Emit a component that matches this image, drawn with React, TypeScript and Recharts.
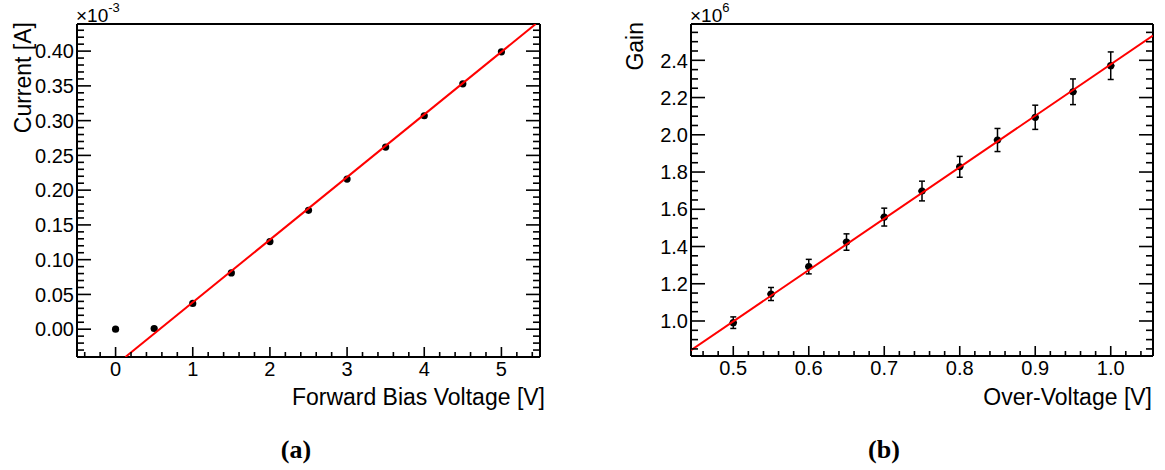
import React from "react";
import { ComposedChart, Scatter, XAxis, YAxis, ErrorBar } from "recharts";

// (a) forward bias I-V, current in units of 1e-3 A
const biasVoltage = [0, 0.5, 1, 1.5, 2, 2.5, 3, 3.5, 4, 4.5, 5];
const currentE3 = [0.0, 0.001, 0.037, 0.081, 0.126, 0.171, 0.216, 0.262, 0.307, 0.353, 0.399];
const currentFitX = [0.127, 5.444];
const currentFitY = [-0.04, 0.439];

// (b) gain vs over-voltage, gain in units of 1e6
const overVoltage = [0.5, 0.55, 0.6, 0.65, 0.7, 0.75, 0.8, 0.85, 0.9, 0.95, 1.0];
const gainE6 = [0.991, 1.145, 1.292, 1.424, 1.558, 1.698, 1.828, 1.972, 2.094, 2.231, 2.371];
const gainErr = [0.031, 0.035, 0.039, 0.044, 0.048, 0.053, 0.056, 0.062, 0.065, 0.069, 0.074];
const voltErr = [0.005, 0.005, 0.005, 0.005, 0.005, 0.005, 0.005, 0.005, 0.005, 0.005, 0.005];
const gainFitX = [0.444, 1.056];
const gainFitY = [0.843, 2.533];

const ivPoints = biasVoltage.map((x, i) => ({ x, y: currentE3[i] }));
const ivFit = currentFitX.map((x, i) => ({ x, y: currentFitY[i] }));
const gainPoints = overVoltage.map((x, i) => ({ x, y: gainE6[i], err: gainErr[i], xerr: voltErr[i] }));
const gainFit = gainFitX.map((x, i) => ({ x, y: gainFitY[i] }));

const FONT = "'Liberation Sans', Arial, Helvetica, sans-serif";

// minor tick positions (every secondary division)
const steps = (from: number, to: number, step: number) => {
  const out: number[] = [];
  const n = Math.round((to - from) / step);
  for (let i = 0; i <= n; i++) out.push(+(from + i * step).toFixed(6));
  return out;
};

const ivTicksX = steps(-0.4, 5.4, 0.2);
const ivTicksY = steps(-0.04, 0.43, 0.01);
const gainTicksX = steps(0.46, 1.04, 0.02);
const gainTicksY = steps(0.85, 2.55, 0.05);

type Side = "bottom" | "top" | "left" | "right";

// ROOT style: ticks point inwards, labels only on major ticks
function makeTick(side: Side, majorStep: number, majorLen: number, fmt?: (v: number) => string) {
  return (props: any) => {
    const { x, y, payload } = props;
    const v = payload.value as number;
    const r = v / majorStep;
    const major = Math.abs(r - Math.round(r)) < 1e-6;
    const len = major ? majorLen : majorLen / 2;
    let line;
    if (side === "bottom") line = <line x1={x} y1={y} x2={x} y2={y - len} />;
    else if (side === "top") line = <line x1={x} y1={y} x2={x} y2={y + len} />;
    else if (side === "left") line = <line x1={x} y1={y} x2={x + len} y2={y} />;
    else line = <line x1={x} y1={y} x2={x - len} y2={y} />;
    let label = null;
    if (major && fmt) {
      label =
        side === "bottom" ? (
          <text x={x} y={y + 18.5} textAnchor="middle" fontSize={20} fontFamily={FONT} fill="#000" stroke="none">
            {fmt(v)}
          </text>
        ) : (
          <text x={x - 3} y={y} dy="0.36em" textAnchor="end" fontSize={20} fontFamily={FONT} fill="#000" stroke="none">
            {fmt(v)}
          </text>
        );
    }
    return (
      <g stroke="#000" strokeWidth={1.6}>
        {line}
        {label}
      </g>
    );
  };
}

const frame = { stroke: "#000", strokeWidth: 2 };
const dot = (p: any) => <circle cx={p.cx} cy={p.cy} r={3.6} fill="#000" />;
const none = () => <g />;

export default function App() {
  return (
    <div style={{ position: "absolute", left: 0, top: 0, width: 1165, height: 470, background: "#fff" }}>
      <div style={{ position: "absolute", left: 0, top: 0 }}>
        <ComposedChart width={560} height={420} margin={{ top: 0, right: 0, bottom: 0, left: 0 }}>
          <XAxis xAxisId="b" type="number" dataKey="x" domain={[-0.5, 5.5]} allowDataOverflow ticks={ivTicksX}
            interval={0} tickSize={0} tickMargin={0} tickLine={false} axisLine={frame} height={63}
            tick={makeTick("bottom", 1, 10, (v) => String(v))} />
          <XAxis xAxisId="t" orientation="top" type="number" domain={[-0.5, 5.5]} allowDataOverflow ticks={ivTicksX}
            interval={0} tickSize={0} tickMargin={0} tickLine={false} axisLine={frame} height={24}
            tick={makeTick("top", 1, 10)} />
          <YAxis yAxisId="l" type="number" dataKey="y" domain={[-0.04, 0.439]} allowDataOverflow ticks={ivTicksY}
            interval={0} tickSize={0} tickMargin={0} tickLine={false} axisLine={frame} width={77}
            tick={makeTick("left", 0.05, 14, (v) => v.toFixed(2))} />
          <YAxis yAxisId="r" orientation="right" type="number" domain={[-0.04, 0.439]} allowDataOverflow ticks={ivTicksY}
            interval={0} tickSize={0} tickMargin={0} tickLine={false} axisLine={frame} width={20}
            tick={makeTick("right", 0.05, 14)} />
          <Scatter xAxisId="b" yAxisId="l" data={ivPoints} shape={dot} isAnimationActive={false} />
          <Scatter xAxisId="b" yAxisId="l" data={ivFit} shape={none} line={{ stroke: "#ff0000", strokeWidth: 2 }}
            isAnimationActive={false} />
        </ComposedChart>
      </div>

      <div style={{ position: "absolute", left: 600, top: 0 }}>
        <ComposedChart width={565} height={420} margin={{ top: 0, right: 0, bottom: 0, left: 0 }}>
          <XAxis xAxisId="b" type="number" dataKey="x" domain={[0.444, 1.056]} allowDataOverflow ticks={gainTicksX}
            interval={0} tickSize={0} tickMargin={0} tickLine={false} axisLine={frame} height={64}
            tick={makeTick("bottom", 0.1, 10, (v) => v.toFixed(1))} />
          <XAxis xAxisId="t" orientation="top" type="number" domain={[0.444, 1.056]} allowDataOverflow ticks={gainTicksX}
            interval={0} tickSize={0} tickMargin={0} tickLine={false} axisLine={frame} height={24}
            tick={makeTick("top", 0.1, 10)} />
          <YAxis yAxisId="l" type="number" dataKey="y" domain={[0.812, 2.595]} allowDataOverflow ticks={gainTicksY}
            interval={0} tickSize={0} tickMargin={0} tickLine={false} axisLine={frame} width={91}
            tick={makeTick("left", 0.2, 14, (v) => v.toFixed(1))} />
          <YAxis yAxisId="r" orientation="right" type="number" domain={[0.812, 2.595]} allowDataOverflow ticks={gainTicksY}
            interval={0} tickSize={0} tickMargin={0} tickLine={false} axisLine={frame} width={12}
            tick={makeTick("right", 0.2, 14)} />
          <Scatter xAxisId="b" yAxisId="l" data={gainPoints} shape={dot} isAnimationActive={false}>
            <ErrorBar dataKey="err" direction="y" width={3} stroke="#000" strokeWidth={1.5} />
            <ErrorBar dataKey="xerr" direction="x" width={0} stroke="#000" strokeWidth={1.5} />
          </Scatter>
          <Scatter xAxisId="b" yAxisId="l" data={gainFit} shape={none} line={{ stroke: "#ff0000", strokeWidth: 2 }}
            isAnimationActive={false} />
        </ComposedChart>
      </div>

      <svg width={1165} height={470} style={{ position: "absolute", left: 0, top: 0, pointerEvents: "none" }}
        fontFamily={FONT} fill="#000">
        <text transform="translate(31,22) rotate(-90)" textAnchor="end" fontSize={23}>Current [A]</text>
        <text x={545} y={405} textAnchor="end" fontSize={23}>Forward Bias Voltage [V]</text>
        <text x={76} y={22} fontSize={19}>
          ×10<tspan dy={-10} fontSize={13}>-3</tspan>
        </text>

        <text transform="translate(643,22) rotate(-90)" textAnchor="end" fontSize={23}>Gain</text>
        <text x={1152} y={405} textAnchor="end" fontSize={23}>Over-Voltage [V]</text>
        <text x={690} y={22} fontSize={19}>
          ×10<tspan dy={-10} fontSize={13}>6</tspan>
        </text>

        <text x={296} y={458} textAnchor="middle" fontSize={26} fontWeight="bold"
          fontFamily="'Liberation Serif', 'DejaVu Serif', serif">(a)</text>
        <text x={884} y={458} textAnchor="middle" fontSize={26} fontWeight="bold"
          fontFamily="'Liberation Serif', 'DejaVu Serif', serif">(b)</text>
      </svg>
    </div>
  );
}
